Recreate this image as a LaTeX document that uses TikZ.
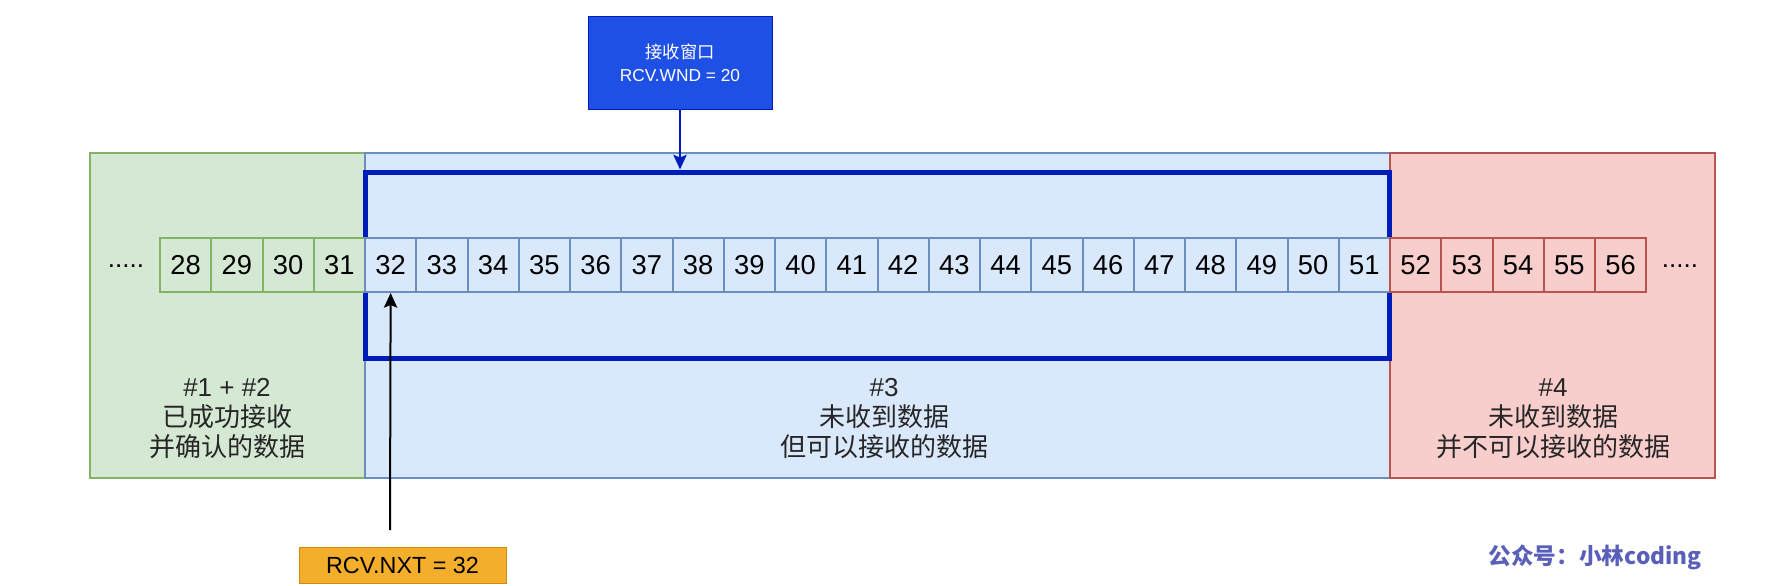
\documentclass[tikz,border=0pt]{standalone}
\usepackage{fontspec}
\setmainfont{Liberation Sans}
\newfontfamily\cjk{Noto Sans CJK SC}
\usepackage{xcolor}
\usetikzlibrary{positioning, fit, arrows.meta}

\definecolor{ackfill}{HTML}{D5E8D4}
\definecolor{ackline}{HTML}{82B366}
\definecolor{winfill}{HTML}{DAE8FC}
\definecolor{winline}{HTML}{6C8EBF}
\definecolor{outfill}{HTML}{F8CECC}
\definecolor{outline}{HTML}{B85450}
\definecolor{wnddark}{HTML}{001DBC}
\definecolor{wndfill}{HTML}{1F50E6}
\definecolor{nxtfill}{HTML}{F3AE2C}
\definecolor{nxtline}{HTML}{D08A10}
\definecolor{credit}{HTML}{5A5FB9}

\begin{document}
\begin{tikzpicture}[
        x=0.75pt, y=-0.75pt,
        every node/.style={font=\fontsize{19.5pt}{22.5pt}\selectfont},
        group/.style={draw, rectangle, line width=1.5pt, inner sep=0pt},
        cell/.style={draw, rectangle, line width=1.5pt, minimum width=51.25*0.75pt, minimum height=54*0.75pt, inner sep=0pt,
                     font=\fontsize{20.5pt}{22pt}\selectfont},
        frame/.style={draw=wnddark, rectangle, line width=3.75pt, inner sep=0pt},
        tag/.style={rectangle, align=center, inner sep=0pt},
        label_text/.style={align=center, text=black!85},
        tip/.style={-{Stealth[length=11pt, width=10pt, inset=2pt]}, line width=1.5pt}
    ]
    \useasboundingbox (0,0) rectangle (1783,585);

    % the three ranges of the receive buffer
    \node[group, fill=ackfill, draw=ackline, fit={(90,153) (365,478)}] (acked_group) {};
    \node[group, fill=winfill, draw=winline, fit={(365,153) (1390,478)}] (window_group) {};
    \node[group, fill=outfill, draw=outline, fit={(1390,153) (1715,478)}] (beyond_group) {};

    \node[frame, fit={(365,172) (1389,358)}] (wnd_frame) {};

    % sequence numbers
    \foreach \n in {28,...,31}
        \node[cell, fill=ackfill, draw=ackline] (c\n) at ({365+(\n-31.5)*51.25},265) {\n};
    \foreach \n in {32,...,51}
        \node[cell, fill=winfill, draw=winline] (c\n) at ({365+(\n-31.5)*51.25},265) {\n};
    \foreach \n in {52,...,56}
        \node[cell, fill=outfill, draw=outline] (c\n) at ({365+(\n-31.5)*51.25},265) {\n};

    \node[anchor=base] (more_left) at (126,267) {.....};
    \node[anchor=base] (more_right) at (1680,267) {.....};

    \node[label_text] (acked_text) at (227,419) {\#1 + \#2\\{\cjk 已成功接收}\\{\cjk 并确认的数据}};
    \node[label_text] (window_text) at (884,419) {\#3\\{\cjk 未收到数据}\\{\cjk 但可以接收的数据}};
    \node[label_text] (beyond_text) at (1553,419) {\#4\\{\cjk 未收到数据}\\{\cjk 并不可以接收的数据}};

    % pointers
    \node[tag, fill=wndfill, draw=wnddark, line width=0.75pt, text=white, minimum width=184*0.75pt, minimum height=92*0.75pt,
          font=\fontsize{13pt}{17pt}\selectfont] (wnd_label) at (680,63) {{\cjk 接收窗口}\\RCV.WND = 20};
    \node[tag, fill=nxtfill, draw=nxtline, line width=0.75pt, minimum width=207*0.75pt, minimum height=36*0.75pt,
          font=\fontsize{17.5pt}{20pt}\selectfont] (nxt_label) at (402.5,565) {RCV.NXT = 32};
    \coordinate (nxt_tail) at (390,530);

    \draw[tip, wnddark] (wnd_label.south) -- (wnd_label.south |- wnd_frame.north);
    \draw[tip, black] (nxt_tail) -- (c32.south);

    \node[text=credit, font=\fontsize{17pt}{19pt}\cjk\bfseries] (credit_text) at (1595,557) {公众号：小林coding};

    \end{tikzpicture}
\end{document}
